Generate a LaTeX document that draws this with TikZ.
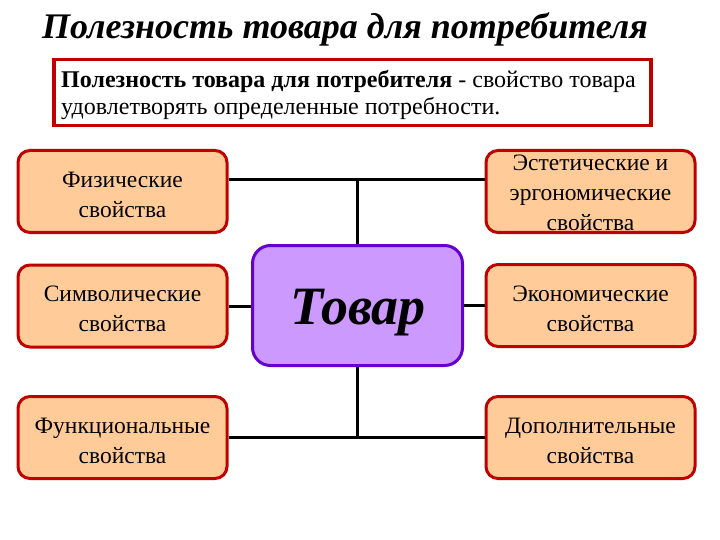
\documentclass[tikz,border=0pt]{standalone}
\usepackage{fontspec}
\setmainfont{Liberation Serif}
\definecolor{bred}{HTML}{C00000}
\definecolor{bfill}{HTML}{FFCC99}
\definecolor{cfill}{HTML}{CC99FF}
\definecolor{cline}{HTML}{6600CC}
\newcommand\sidebox[4][-3pt]{\node[side] (#2) at (#3) {};\node[sidetext] (#2t) at ([yshift=#1]#2.center) {#4};}
\begin{document}
\begin{tikzpicture}[x=1pt,y=-1pt,
  side/.style={draw=bred,fill=bfill,line width=3pt,rounded corners=12pt,minimum width=209pt,minimum height=82pt,inner sep=0pt},
  sidetext/.style={align=center,font=\fontsize{23.5}{30}\selectfont,inner sep=0pt},
  link/.style={line width=3pt,black}]
\useasboundingbox (0,0) rectangle (720,540);
\node[font=\fontsize{36}{40}\selectfont\bfseries\itshape] (title) at (345,29) {Полезность товара для потребителя};
\node[draw=bred,line width=3.5pt,minimum width=597pt,minimum height=66pt,anchor=north west,inner sep=0pt] (def) at (52,58) {};
\node[anchor=north west,align=left,font=\fontsize{24}{27}\selectfont,inner sep=0pt] (deftext) at (61,70) {\textbf{Полезность товара для потребителя} - свойство товара\\удовлетворять определенные потребности.};
\sidebox{l1}{122.5,191.5}{Физические\\свойства}
\sidebox{l2}{122.5,306}{Символические\\свойства}
\sidebox{l3}{122.5,437.5}{Функциональные\\свойства}
\sidebox[-1.5pt]{r1}{590.5,191.5}{\fontsize{23.5}{29}\selectfont Эстетические и\\эргономические\\свойства}
\sidebox{r2}{590.5,305.5}{Экономические\\свойства}
\sidebox{r3}{590.5,437.5}{Дополнительные\\свойства}
\coordinate (jt) at (357,180);
\coordinate (jb) at (357,437);
\draw[link] (l1.east |- jt) -- (r1.west |- jt);
\draw[link] (l3.east |- jb) -- (r3.west |- jb);
\node[draw=cline,fill=cfill,line width=3pt,rounded corners=18pt,minimum width=210pt,minimum height=120pt,inner sep=0pt] (c) at (357.5,305.5) {};
\node[font=\fontsize{54}{60}\selectfont\bfseries\itshape,inner sep=0pt] (ctext) at (358,313) {Товар};
\draw[link] (jt) -- (c.north -| jt);
\draw[link] (jb) -- (c.south -| jb);
\draw[link] (l2.east) -- (c.west |- l2.east);
\draw[link] (c.east |- r2.west) -- (r2.west);
\end{tikzpicture}
\end{document}
